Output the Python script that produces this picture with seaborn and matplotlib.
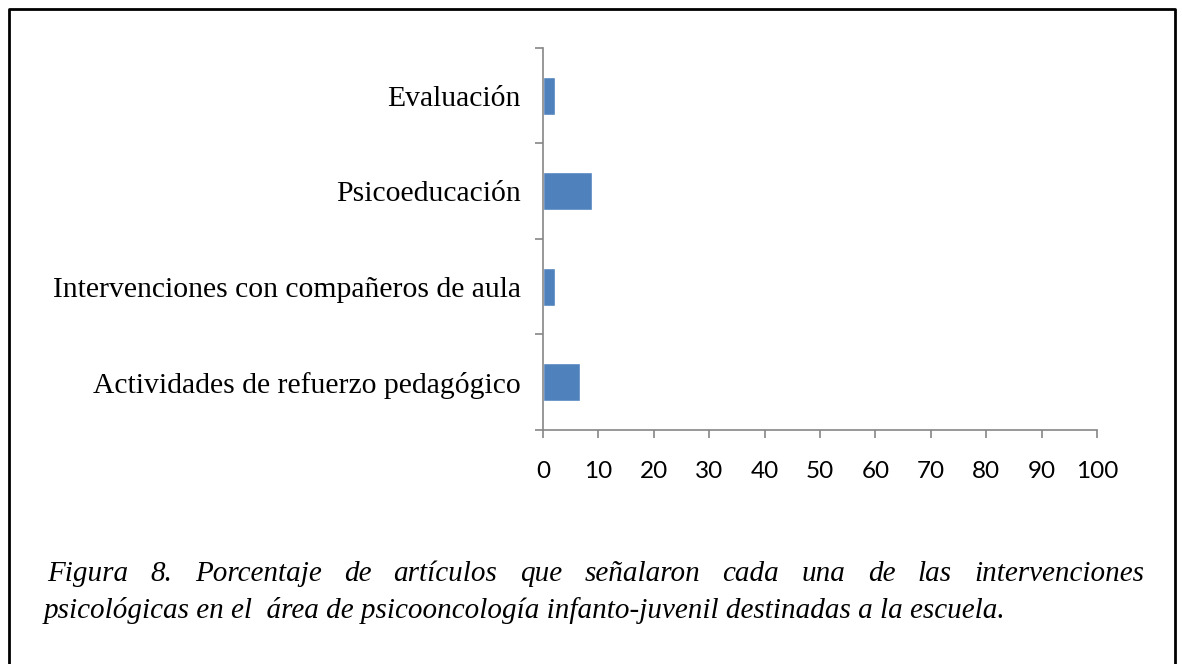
import matplotlib
matplotlib.use("Agg")
import matplotlib.pyplot as plt
from matplotlib.lines import Line2D
from matplotlib.ticker import FixedLocator
import seaborn as sns
import pandas as pd

# datos (porcentaje de artículos)
categorias = ["Evaluación",
              "Psicoeducación",
              "Intervenciones con compañeros de aula",
              "Actividades de refuerzo pedagógico"]
porcentajes = [2.22, 8.89, 2.22, 6.67]
xticks = [0, 10, 20, 30, 40, 50, 60, 70, 80, 90, 100]

leyenda_1 = "Figura 8. Porcentaje de artículos que señalaron cada una de las intervenciones"
leyenda_2 = "psicológicas en el  área de psicooncología infanto-juvenil destinadas a la escuela."

df = pd.DataFrame({"categoria": categorias, "porcentaje": porcentajes})

sns.set_style("white")
plt.rcParams["text.color"] = "black"
plt.rcParams["xtick.color"] = "black"
plt.rcParams["ytick.color"] = "black"

W, H = 1182, 664
fig = plt.figure(figsize=(W / 100, H / 100), dpi=100)
ax = fig.add_axes([543 / W, 1 - 430 / H, 554 / W, 382 / H])

sns.barplot(data=df, x="porcentaje", y="categoria", orient="h", color="#4F81BD",
            width=0.4, ax=ax, saturation=1)

gris = "#868686"
ax.set_xlim(0, 100)
ax.set_ylim(3.5, -0.5)
ax.set_xticks(xticks)
ax.set_xticklabels([str(t) for t in xticks], fontfamily="Lato", fontsize=17.5)
ax.tick_params(axis="x", bottom=True, length=6, width=1.2, color=gris, pad=16,
               direction="out", labelcolor="black")
ax.tick_params(axis="y", which="major", length=0, pad=16, labelcolor="black")
ax.yaxis.set_minor_locator(FixedLocator([-0.5, 0.5, 1.5, 2.5, 3.5]))
ax.tick_params(axis="y", which="minor", length=6, width=1.2, color=gris, left=True)
for lab in ax.get_yticklabels():
    lab.set_fontfamily("Liberation Serif")
    lab.set_fontsize(21.3)
ax.set_xlabel("")
ax.set_ylabel("")
for s in ["top", "right"]:
    ax.spines[s].set_visible(False)
for s in ["left", "bottom"]:
    ax.spines[s].set_color(gris)
    ax.spines[s].set_linewidth(1.2)

# marco abierto por abajo
xs = [9 / W, 9 / W, 1175 / W, 1175 / W]
ys = [0, 1 - 9 / H, 1 - 9 / H, 0]
fig.add_artist(Line2D(xs, ys, transform=fig.transFigure, color="black", linewidth=2))

# leyenda justificada
renderer = fig.canvas.get_renderer()
estilo = dict(fontfamily="Liberation Serif", fontstyle="italic", fontsize=21,
              va="baseline", color="black")
palabras = leyenda_1.split()
textos = [fig.text(0, 1 - 581 / H, p, **estilo) for p in palabras]
anchos = [t.get_window_extent(renderer).width for t in textos]
izq, der = 47, 1144
hueco = (der - izq - sum(anchos)) / (len(palabras) - 1)
x = izq
for t, a in zip(textos, anchos):
    t.set_x(x / W)
    x += a + hueco
fig.text(44 / W, 1 - 618 / H, leyenda_2, **estilo)

fig.savefig("out.png", dpi=100)
